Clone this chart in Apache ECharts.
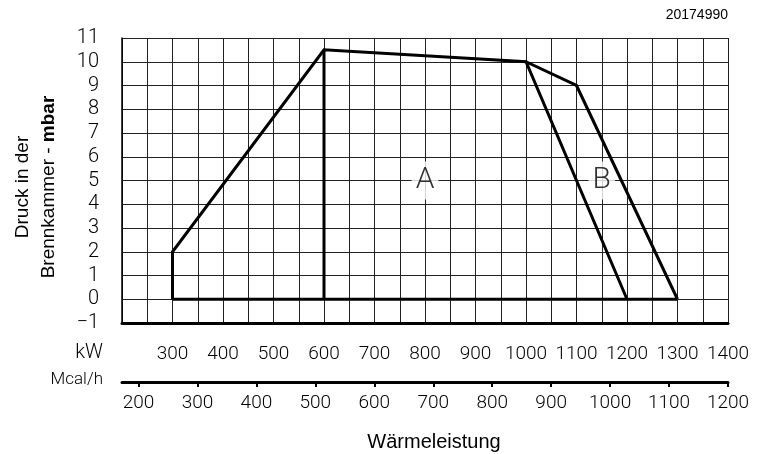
<!DOCTYPE html>
<html>
<head>
<meta charset="utf-8">
<script src="https://cdn.jsdelivr.net/npm/echarts@6/dist/echarts.min.js"></script>
<style>
html,body{margin:0;padding:0;background:#fff;}
#c{width:762px;height:454px;}
</style>
</head>
<body>
<div id="c"></div>
<script>
// ---- data ----
const kwLabels = [300, 400, 500, 600, 700, 800, 900, 1000, 1100, 1200, 1300, 1400];
const mcalLabels = [200, 300, 400, 500, 600, 700, 800, 900, 1000, 1100, 1200];
const curveA = [[300, 0], [300, 2], [600, 10.5], [1000, 10], [1200, 0]];
const curveB = [[1000, 10], [1100, 9], [1300, 0]];
const baseLine = [[300, 0], [1300, 0]];
const divider = [[600, 0], [600, 10.5]];
const regionLabels = [
  { name: 'A', value: [800, 5] },
  { name: 'B', value: [1150, 5] }
];
const docNumber = '20174990';

const thin = 'Roboto';
const sans = 'Liberation Sans, Arial, sans-serif';

const chart = echarts.init(document.getElementById('c'), null, { renderer: 'canvas' });

function lineSeries(data) {
  return {
    type: 'line', data: data, symbol: 'none', silent: true, z: 5,
    lineStyle: { color: '#000', width: 3, join: 'miter' },
    animation: false
  };
}

chart.setOption({
  animation: false,
  backgroundColor: '#fff',
  grid: { left: 122, right: 34, top: 38, bottom: 131, containLabel: false },
  xAxis: [
    {
      type: 'value', min: 200, max: 1400, interval: 50,
      axisLine: { show: true, onZero: false, lineStyle: { color: '#000', width: 3 } },
      axisTick: { show: false },
      splitLine: { show: true, lineStyle: { color: '#222', width: 1 } },
      axisLabel: {
        margin: 22, fontFamily: thin, fontWeight: 300, fontSize: 19, color: '#000',
        formatter: function (v) { return kwLabels.indexOf(v) >= 0 ? String(v) : ''; }
      }
    },
    {
      type: 'value', min: 172, max: 1200, position: 'bottom', offset: 59,
      axisLine: { show: true, onZero: false, lineStyle: { color: '#000', width: 3 } },
      axisTick: { show: true, inside: false, length: 5, customValues: mcalLabels, lineStyle: { color: '#000', width: 2 } },
      splitLine: { show: false },
      axisLabel: {
        margin: 12, fontFamily: thin, fontWeight: 300, fontSize: 19, color: '#000',
        customValues: mcalLabels,
        formatter: function (v) { return String(v); }
      }
    }
  ],
  yAxis: {
    type: 'value', min: -1, max: 11, interval: 1,
    axisLine: { show: true, lineStyle: { color: '#000', width: 1.5 } },
    axisTick: { show: false },
    splitLine: { show: true, lineStyle: { color: '#222', width: 1 } },
    axisLabel: {
      margin: 23, fontFamily: thin, fontWeight: 300, fontSize: 20, color: '#000',
      formatter: function (v) { return v < 0 ? '\u2212' + Math.abs(v) : String(v); }
    }
  },
  series: [
    lineSeries(curveA),
    lineSeries(curveB),
    lineSeries(baseLine),
    lineSeries(divider),
    {
      type: 'scatter', data: regionLabels, symbolSize: 1, itemStyle: { color: 'rgba(0,0,0,0)' },
      silent: true, z: 3,
      label: {
        show: true, position: 'inside', formatter: '{b}',
        fontFamily: thin, fontWeight: 300, fontSize: 30, color: '#000',
        backgroundColor: '#fff', padding: [5, 4, 3, 4]
      }
    }
  ],
  graphic: [
    { type: 'text', right: 34, top: 8, style: { text: docNumber, font: '14px ' + sans, fill: '#000' } },
    { type: 'text', x: 23, y: 187, rotation: Math.PI / 2,
      style: { text: 'Druck in der', font: '19px ' + sans, fill: '#000', align: 'center', verticalAlign: 'middle' } },
    { type: 'text', x: 49, y: 187, rotation: Math.PI / 2,
      style: {
        text: '{r|Brennkammer - }{b|mbar}', align: 'center', verticalAlign: 'middle',
        rich: {
          r: { fontFamily: sans, fontSize: 19, fill: '#000' },
          b: { fontFamily: sans, fontSize: 19, fontWeight: 'bold', fill: '#000' }
        }
      } },
    { type: 'text', x: 103, y: 353,
      style: { text: 'kW', font: '300 20px ' + thin, fill: '#000', align: 'right', verticalAlign: 'middle' } },
    { type: 'text', x: 103, y: 380,
      style: { text: 'Mcal/h', font: '300 17px ' + thin, fill: '#000', align: 'right', verticalAlign: 'middle' } },
    { type: 'text', x: 434, y: 442,
      style: { text: 'Wärmeleistung', font: '20px ' + sans, fill: '#000', align: 'center', verticalAlign: 'middle' } }
  ]
});
</script>
</body>
</html>
